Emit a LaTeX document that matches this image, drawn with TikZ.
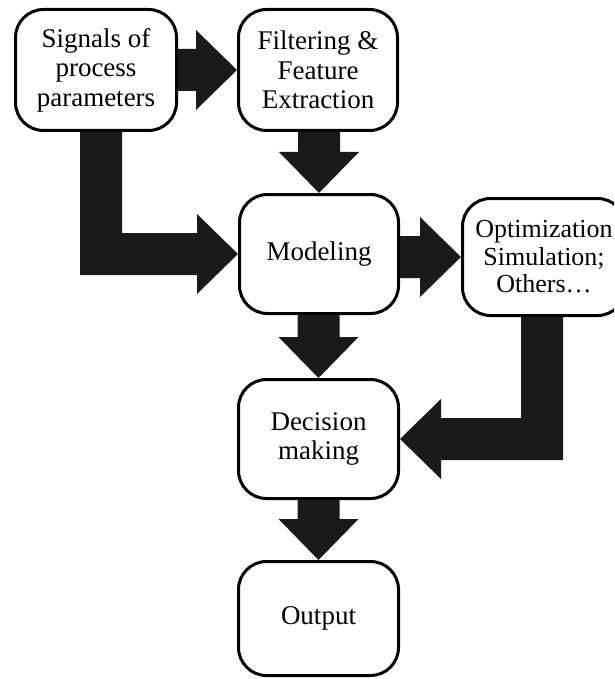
\documentclass[tikz,border=0pt]{standalone}
\usepackage{fontspec}
\setmainfont{Liberation Serif}
\usetikzlibrary{calc}
\definecolor{arrowink}{HTML}{1A1A1A}
\tikzset{
  stage/.style={draw=black, line width=3pt, rounded corners=28pt, fill=white,
    align=center, inner sep=0pt, font=\fontsize{27}{29.5}\selectfont},
  blk/.style={fill=arrowink},
  % thick block arrow pointing right, shaft aligned with the target
  rblock/.style={to path={
    ($(\tikztostart|-\tikztotarget)+(0,21)$) -- ($(\tikztotarget)+(-41,21)$)
    -- ($(\tikztotarget)+(-41,40)$) -- (\tikztotarget)
    -- ($(\tikztotarget)+(-41,-40)$) -- ($(\tikztotarget)+(-41,-21)$)
    -- ($(\tikztostart|-\tikztotarget)+(0,-21)$) -- cycle}},
  % thick block arrow pointing down, shaft aligned with the target
  dblock/.style={to path={
    ($(\tikztostart-|\tikztotarget)+(-21,0)$) -- ($(\tikztotarget)+(-21,41)$)
    -- ($(\tikztotarget)+(-40,41)$) -- (\tikztotarget)
    -- ($(\tikztotarget)+(40,41)$) -- ($(\tikztotarget)+(21,41)$)
    -- ($(\tikztostart-|\tikztotarget)+(21,0)$) -- cycle}}
}
\begin{document}
\begin{tikzpicture}[x=1pt,y=1pt]
  \useasboundingbox (0,0) rectangle (614,-679);
  \clip (0,0) rectangle (614,-679);
  \fill[white] (0,0) rectangle (614,-679);

  % stages
  \node[stage, minimum width=161pt, minimum height=121pt] (sig)   at (96,-70)     {Signals of\\process\\parameters};
  \node[stage, minimum width=159pt, minimum height=121pt] (filt)  at (318,-70)    {Filtering \&\\Feature\\Extraction};
  \node[stage, minimum width=159pt, minimum height=119pt] (model) at (319,-254)   {Modeling};
  \node[stage, minimum width=163pt, minimum height=117pt,
        font=\fontsize{26}{27.5}\selectfont]              (opt)   at (544,-257)   {Optimization\\Simulation;\\Others…};
  \node[stage, minimum width=160pt, minimum height=119pt] (dec)   at (318.5,-439) {Decision\\making};
  \node[stage, minimum width=160pt, minimum height=114pt] (out)   at (318.5,-618.5) {Output};

  % straight block arrows
  \fill[blk] (sig.east)    to[rblock] (filt.west);
  \fill[blk] (filt.south)  to[dblock] (model.north);
  \fill[blk] (model.east)  to[rblock] (opt.west);
  \fill[blk] (model.south) to[dblock] (dec.north);
  \fill[blk] (dec.south)   to[dblock] (out.north);

  % elbow arrow: signals down and into modeling
  \coordinate (s1) at ($(sig.south)+(5,0)$);
  \coordinate (c1) at (s1 |- model.west);
  \fill[blk] ($(s1)+(-21,0)$) -- ($(c1)+(-21,-21)$)
    -- ($(model.west)+(-41,-21)$) -- ($(model.west)+(-41,-40)$) -- (model.west)
    -- ($(model.west)+(-41,40)$) -- ($(model.west)+(-41,21)$)
    -- ($(c1)+(21,21)$) -- ($(s1)+(21,0)$) -- cycle;

  % elbow arrow: optimization down and into decision making
  \coordinate (s2) at ($(opt.south)+(-2,0)$);
  \coordinate (c2) at (s2 |- dec.east);
  \fill[blk] ($(s2)+(21,0)$) -- ($(c2)+(21,-21)$)
    -- ($(dec.east)+(41,-21)$) -- ($(dec.east)+(41,-40)$) -- (dec.east)
    -- ($(dec.east)+(41,40)$) -- ($(dec.east)+(41,21)$)
    -- ($(c2)+(-21,21)$) -- ($(s2)+(-21,0)$) -- cycle;
\end{tikzpicture}
\end{document}
